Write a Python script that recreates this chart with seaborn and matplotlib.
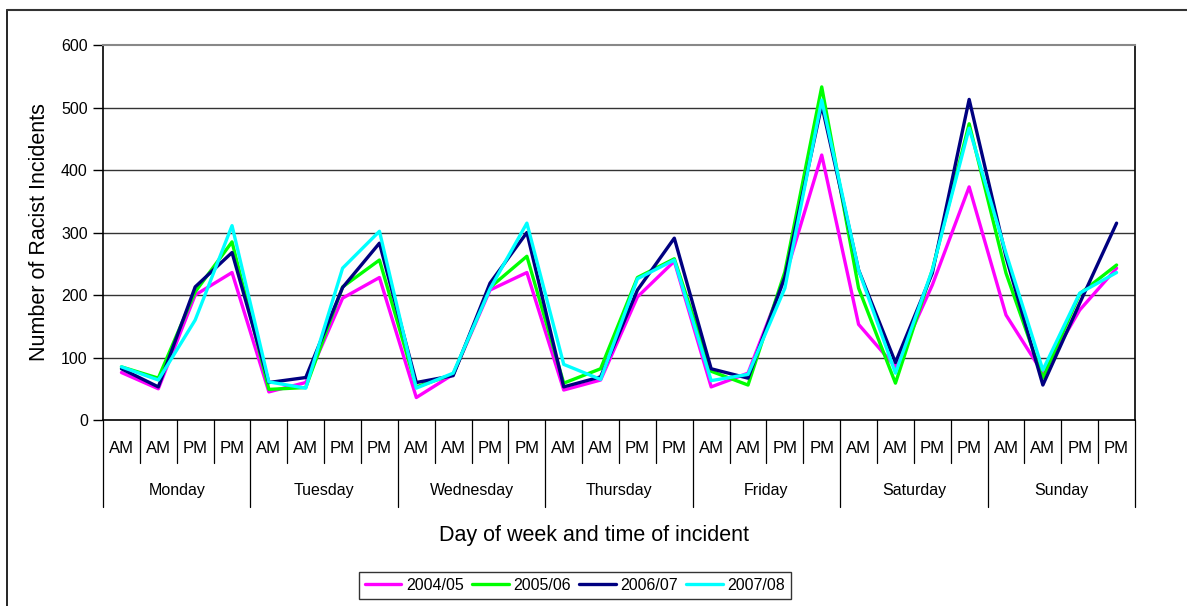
import numpy as np
import pandas as pd
import seaborn as sns
import matplotlib
matplotlib.use("Agg")
import matplotlib.pyplot as plt
from matplotlib.lines import Line2D
from matplotlib.transforms import blended_transform_factory

days = ["Monday", "Tuesday", "Wednesday", "Thursday", "Friday", "Saturday", "Sunday"]
slots = ["AM", "AM", "PM", "PM"]
years = ["2004/05", "2005/06", "2006/07", "2007/08"]
colours = ["#FF00FF", "#00FF00", "#000080", "#00FFFF"]

y0405 = [76, 50, 200, 236, 45, 60, 195, 228, 36, 73, 208, 236, 48, 64,
         197, 254, 53, 75, 228, 424, 153, 85, 216, 373, 168, 75, 176, 243]
y0506 = [85, 67, 205, 285, 49, 52, 213, 256, 53, 73, 212, 262, 59, 82,
         228, 258, 78, 56, 237, 533, 211, 59, 240, 474, 235, 67, 202, 248]
y0607 = [82, 53, 213, 268, 60, 68, 212, 283, 60, 71, 219, 300, 53, 69,
         208, 291, 82, 67, 229, 504, 240, 92, 235, 513, 261, 56, 187, 315]
y0708 = [85, 64, 160, 311, 61, 51, 243, 302, 51, 75, 210, 315, 89, 65,
         226, 256, 63, 73, 211, 512, 240, 75, 240, 467, 267, 80, 203, 236]

series = [y0405, y0506, y0607, y0708]
npts = len(days) * len(slots)

rows = []
for yr, vals in zip(years, series):
    for i, v in enumerate(vals):
        rows.append({"pos": i, "year": yr, "count": v})
df = pd.DataFrame(rows)

sns.set_style("white")
plt.rcParams["font.family"] = ["Liberation Sans", "DejaVu Sans"]
plt.rcParams["text.color"] = "black"
plt.rcParams["axes.labelcolor"] = "black"
plt.rcParams["ytick.color"] = "black"
plt.rcParams["xtick.color"] = "black"

fig = plt.figure(figsize=(11.87, 6.06), dpi=100)
ax = fig.add_axes([0.0868, 0.3069, 0.8694, 0.6188])

sns.lineplot(data=df, x="pos", y="count", hue="year", hue_order=years,
             palette=dict(zip(years, colours)), linewidth=2.4, ax=ax,
             legend=False)

ax.set_xlim(-0.5, npts - 0.5)
ax.set_ylim(0, 600)
ax.set_yticks(range(0, 601, 100))
ax.tick_params(axis="y", which="both", left=True, length=7, width=1,
               color="black", labelcolor="black", labelsize=11.5, pad=4)
ax.set_xticks([])
ax.set_xlabel("")
ax.set_ylabel("Number of Racist Incidents", fontsize=15.5, labelpad=8,
              color="black")

for v in range(100, 600, 100):
    ax.axhline(v, color="#333333", linewidth=1, zorder=0)

for s in ["left", "bottom", "right"]:
    ax.spines[s].set_color("black")
    ax.spines[s].set_linewidth(1.2)
ax.spines["top"].set_color("#888888")
ax.spines["top"].set_linewidth(1.5)

# two-level category axis
tr = blended_transform_factory(ax.transData, ax.transAxes)
for i in range(npts + 1):
    bottom = -0.232 if i % 4 == 0 else -0.115
    ax.plot([i - 0.5, i - 0.5], [0, bottom], color="black", linewidth=0.9,
            transform=tr, clip_on=False)
for i in range(npts):
    ax.text(i, -0.077, slots[i % 4], transform=tr, ha="center", va="center",
            fontsize=12, color="black")
for d, name in enumerate(days):
    ax.text(d * 4 + 1.5, -0.187, name, transform=tr, ha="center",
            va="center", fontsize=11.5, color="black")
ax.text(0.476, -0.307, "Day of week and time of incident", transform=ax.transAxes,
        ha="center", va="center", fontsize=15.5, color="black")

handles = [Line2D([], [], color=c, linewidth=2.4) for c in colours]
leg = fig.legend(handles, years, loc="center", bbox_to_anchor=(0.4844, 0.0338),
                 ncol=4, fontsize=11.5, frameon=True, fancybox=False,
                 handlelength=2.3, handletextpad=0.3, columnspacing=0.5,
                 borderpad=0.35)
leg.get_frame().set_edgecolor("black")
leg.get_frame().set_linewidth(1)
for t in leg.get_texts():
    t.set_color("black")

# outer chart frame (only left and top edges visible in the crop)
fig.add_artist(Line2D([7 / 1187, 7 / 1187], [0, 1 - 10 / 606],
                      color="black", linewidth=1.2, transform=fig.transFigure))
fig.add_artist(Line2D([7 / 1187, 1], [1 - 10 / 606, 1 - 10 / 606],
                      color="#333333", linewidth=1.5, transform=fig.transFigure))

fig.savefig("out.png", dpi=100)
